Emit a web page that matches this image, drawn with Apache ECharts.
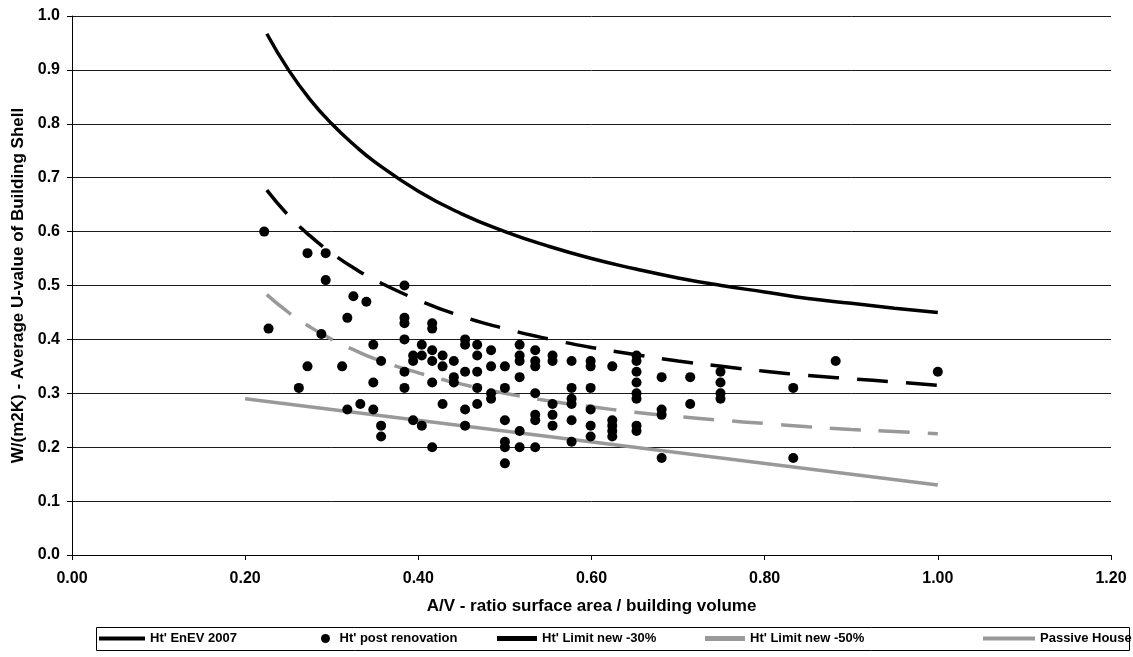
<!DOCTYPE html>
<html>
<head>
<meta charset="utf-8">
<script src="https://cdn.jsdelivr.net/npm/echarts@6/dist/echarts.min.js"></script>
<style>
html,body{margin:0;padding:0;background:#fff;}
#chart{width:1133px;height:657px;}
</style>
</head>
<body>
<div id="chart"></div>
<script>
// A/V values for the limit curves
const curveX = [0.225, 0.25, 0.275, 0.3, 0.325, 0.35, 0.4, 0.45, 0.5, 0.55, 0.6, 0.65, 0.7, 0.75, 0.8, 0.85, 0.9, 0.95, 1.0];
const enev2007 = [0.967, 0.90, 0.845, 0.80, 0.762, 0.729, 0.675, 0.633, 0.60, 0.573, 0.55, 0.531, 0.514, 0.50, 0.488, 0.476, 0.467, 0.458, 0.45];
const limit30 = [0.677, 0.63, 0.592, 0.56, 0.533, 0.51, 0.473, 0.443, 0.42, 0.401, 0.385, 0.372, 0.36, 0.35, 0.341, 0.333, 0.327, 0.321, 0.315];
const limit50 = [0.483, 0.45, 0.423, 0.40, 0.381, 0.364, 0.338, 0.317, 0.30, 0.286, 0.275, 0.265, 0.257, 0.25, 0.244, 0.238, 0.233, 0.229, 0.225];
const passiveX = [0.2, 1.0];
const passiveY = [0.29, 0.13];

// post renovation buildings
const renovX = [0.222,0.272,0.293,0.293,0.384,0.325,0.340,0.318,0.227,0.288,0.384,0.384,0.416,0.416,0.384,0.348,0.404,0.394,0.394,0.404,0.416,0.416,0.428,0.428,0.357,0.272,0.312,0.262,0.348,0.384,0.384,0.416,0.333,0.318,0.348,0.357,0.357,0.394,0.404,0.416,0.428,
0.441,0.441,0.441,0.454,0.454,0.454,0.454,0.454,0.468,0.468,0.468,0.468,0.468,0.484,0.484,0.484,0.484,0.50,0.50,0.50,0.50,0.50,0.50,0.517,0.517,0.517,0.517,0.517,0.517,0.535,0.535,0.535,0.535,0.535,0.535,0.535,0.555,0.555,0.555,0.555,0.555,0.577,0.577,0.577,0.577,0.577,0.577,0.599,0.599,0.599,0.599,0.599,0.599,0.624,0.624,0.624,0.624,0.624,0.652,0.652,0.652,0.652,0.652,0.652,0.652,0.652,
0.681,0.681,0.681,0.681,0.714,0.714,0.749,0.749,0.749,0.749,0.833,0.833,0.882,1.0];
const renovY = [0.60,0.56,0.56,0.51,0.50,0.48,0.47,0.44,0.42,0.41,0.44,0.43,0.43,0.42,0.40,0.39,0.39,0.37,0.36,0.37,0.38,0.36,0.37,0.35,0.36,0.35,0.35,0.31,0.32,0.34,0.31,0.32,0.28,0.27,0.27,0.24,0.22,0.25,0.24,0.20,0.28,
0.36,0.33,0.32,0.40,0.39,0.34,0.27,0.24,0.39,0.37,0.34,0.31,0.28,0.38,0.35,0.30,0.29,0.35,0.31,0.25,0.21,0.20,0.17,0.39,0.37,0.36,0.33,0.23,0.20,0.38,0.36,0.35,0.30,0.26,0.25,0.20,0.37,0.36,0.28,0.26,0.24,0.36,0.31,0.29,0.28,0.25,0.21,0.36,0.35,0.31,0.27,0.24,0.22,0.35,0.25,0.24,0.23,0.22,0.37,0.36,0.34,0.32,0.30,0.29,0.24,0.23,
0.33,0.27,0.26,0.18,0.33,0.28,0.34,0.32,0.30,0.29,0.31,0.18,0.36,0.34];

const names = ["Ht' EnEV 2007", "Ht' post renovation", "Ht' Limit new -30%", "Ht' Limit new -50%", "Passive House"];

function pairs(xs, ys){ return xs.map((x,i)=>[x, ys[i]]); }

const FONT = '"Liberation Sans", Arial, sans-serif';
const legendText = {fontFamily:FONT, fontWeight:'bold', fontSize:13, color:'#000'};
const LEG_TOP = 632;
function leg(name, left, icon, w, h){
  return {data:[name], left:left, top:LEG_TOP, icon:icon, itemWidth:w, itemHeight:h,
    padding:0, textStyle:legendText, selectedMode:false, height:16};
}

const chart = echarts.init(document.getElementById('chart'), null, {renderer:'canvas'});
chart.setOption({
  animation:false,
  backgroundColor:'#fff',
  grid:{left:72, right:22, top:16, bottom:102, containLabel:false},
  graphic:[{type:'rect', shape:{x:96.5, y:627.5, width:1033, height:23},
    style:{fill:'none', stroke:'#000', lineWidth:1}, silent:true, z:0}],
  xAxis:{
    type:'value', min:0, max:1.2, interval:0.2,
    name:'A/V - ratio surface area / building volume',
    nameLocation:'middle', nameGap:43,
    nameTextStyle:{fontFamily:FONT, fontWeight:'bold', fontSize:17, color:'#000'},
    axisLine:{show:true, onZero:false, lineStyle:{color:'#000', width:1}},
    axisTick:{show:true, length:5, lineStyle:{color:'#000'}},
    axisLabel:{fontFamily:FONT, fontWeight:'bold', fontSize:16, color:'#000', margin:16,
      formatter:v=>v.toFixed(2)},
    splitLine:{show:false}
  },
  yAxis:{
    type:'value', min:0, max:1, interval:0.1,
    name:'W/(m2K) - Average U-value of Building Shell',
    nameLocation:'middle', nameGap:43, nameRotate:90,
    nameTextStyle:{fontFamily:FONT, fontWeight:'bold', fontSize:17, color:'#000'},
    axisLine:{show:true, lineStyle:{color:'#000', width:1}},
    axisTick:{show:true, length:5, lineStyle:{color:'#000'}},
    axisLabel:{fontFamily:FONT, fontWeight:'bold', fontSize:16, color:'#000', margin:12,
      formatter:v=>v.toFixed(1)},
    splitLine:{show:true, lineStyle:{color:'#1a1a1a', width:1}}
  },
  legend:[
    leg(names[0], 99, 'rect', 46, 4),
    leg(names[1], 321, 'circle', 18, 9),
    leg(names[2], 497, 'rect', 40, 5),
    leg(names[3], 705, 'rect', 40, 5),
    leg(names[4], 983, 'rect', 52, 4)
  ],
  series:[
    {name:names[0], type:'line', data:pairs(curveX, enev2007), smooth:true, symbol:'none',
      lineStyle:{color:'#000', width:3.5}, itemStyle:{color:'#000'}, z:3},
    {name:names[1], type:'scatter', data:pairs(renovX, renovY), symbol:'circle', symbolSize:10,
      itemStyle:{color:'#000', opacity:1}, z:5},
    {name:names[2], type:'line', data:pairs(curveX, limit30), smooth:true, symbol:'none',
      lineStyle:{color:'#000', width:3.5, type:[31,18]}, itemStyle:{color:'#000'}, z:3},
    {name:names[3], type:'line', data:pairs(curveX, limit50), smooth:true, symbol:'none',
      lineStyle:{color:'#999', width:3.5, type:[31,18]}, itemStyle:{color:'#999'}, z:3},
    {name:names[4], type:'line', data:pairs(passiveX, passiveY), symbol:'none',
      lineStyle:{color:'#999', width:3.5}, itemStyle:{color:'#999'}, z:3}
  ]
});
</script>
</body>
</html>
